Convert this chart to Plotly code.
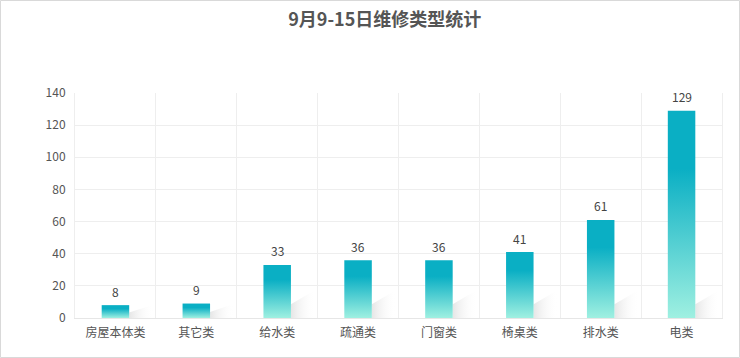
import plotly.graph_objects as go

categories = ["房屋本体类", "其它类", "给水类", "疏通类", "门窗类", "椅桌类", "排水类", "电类"]
values = [8, 9, 33, 36, 36, 41, 61, 129]
y_ticks = [0, 20, 40, 60, 80, 100, 120, 140]
title_text = "9月9-15日维修类型统计"

W, H = 740, 358
ML, MR, MT, MB = 75, 18, 93, 40
PW, PH = W - ML - MR, H - MT - MB

FONT = "Noto Sans CJK SC, Microsoft YaHei, sans-serif"
TEAL = "#0aafc4"
LIGHT = "#9ff0e1"
BAR_W = 0.34

fig = go.Figure()

for i, (c, v) in enumerate(zip(categories, values)):
    x0, x1 = i - BAR_W / 2, i + BAR_W / 2
    # soft shadow to the right of the bar base
    sh = min(v, 25) * 0.6
    fig.add_trace(go.Scatter(
        x=[x1, x1 + 0.3, x1 + 0.3, x1, x1],
        y=[0, 0, sh * 0.9 + 4, sh * 0.5 + 1, 0],
        mode="lines", line=dict(width=0), fill="toself",
        fillgradient=dict(type="horizontal",
                          colorscale=[[0, "rgba(205,205,205,0.5)"], [1, "rgba(255,255,255,0)"]]),
        hoverinfo="skip", showlegend=False,
    ))
    fig.add_trace(go.Scatter(
        x=[x0, x1, x1, x0, x0], y=[0, 0, v, v, 0],
        mode="lines", line=dict(width=0), fill="toself",
        fillgradient=dict(type="vertical",
                          colorscale=[[0, LIGHT], [0.72, TEAL], [1, TEAL]]),
        name=c, showlegend=False,
    ))
    fig.add_annotation(x=i, y=v, text=str(v), showarrow=False, yanchor="middle",
                       yshift=14, font=dict(family=FONT, size=12, color="#444"))

# overlay axis for vertical gridlines at category boundaries
fig.add_trace(go.Scatter(x=[-0.5], y=[0], xaxis="x2", mode="markers",
                         marker=dict(opacity=0), hoverinfo="skip", showlegend=False))

fig.update_layout(
    width=W, height=H,
    margin=dict(l=ML, r=MR, t=MT, b=MB),
    paper_bgcolor="white", plot_bgcolor="white",
    title=dict(text=f"<b>{title_text}</b>", x=0.52, xanchor="center", y=0.945, yanchor="middle",
               font=dict(family=FONT, size=18, color="#555")),
    xaxis=dict(range=[-0.5, len(categories) - 0.5], tickvals=list(range(len(categories))),
               ticktext=categories, showgrid=False, zeroline=False,
               showline=True, linecolor="#e6e6e6", linewidth=1, ticks="",
               ticklabelstandoff=4,
               tickfont=dict(family=FONT, size=12, color="#555"), fixedrange=True),
    xaxis2=dict(overlaying="x", range=[-0.5, len(categories) - 0.5],
                tickvals=[k + 0.5 for k in range(-1, len(categories))],
                showticklabels=False, showgrid=True, gridcolor="#eeeeee", gridwidth=1,
                zeroline=False, ticks="", side="bottom"),
    yaxis=dict(range=[0, 140], tickvals=y_ticks, showgrid=True, gridcolor="#eeeeee",
               zeroline=False, ticks="", ticklabelstandoff=6,
               showline=True, mirror=True, linecolor="#eeeeee", linewidth=1,
               tickfont=dict(family=FONT, size=12, color="#555"), fixedrange=True),
    shapes=[dict(type="rect", xref="paper", yref="paper",
                 x0=-(ML - 0.5) / PW, x1=1 + (MR - 0.5) / PW,
                 y0=-(MB - 0.5) / PH, y1=1 + (MT - 0.5) / PH,
                 line=dict(color="#d9d9d9", width=1), layer="above")],
)

fig.write_html("out.html")
